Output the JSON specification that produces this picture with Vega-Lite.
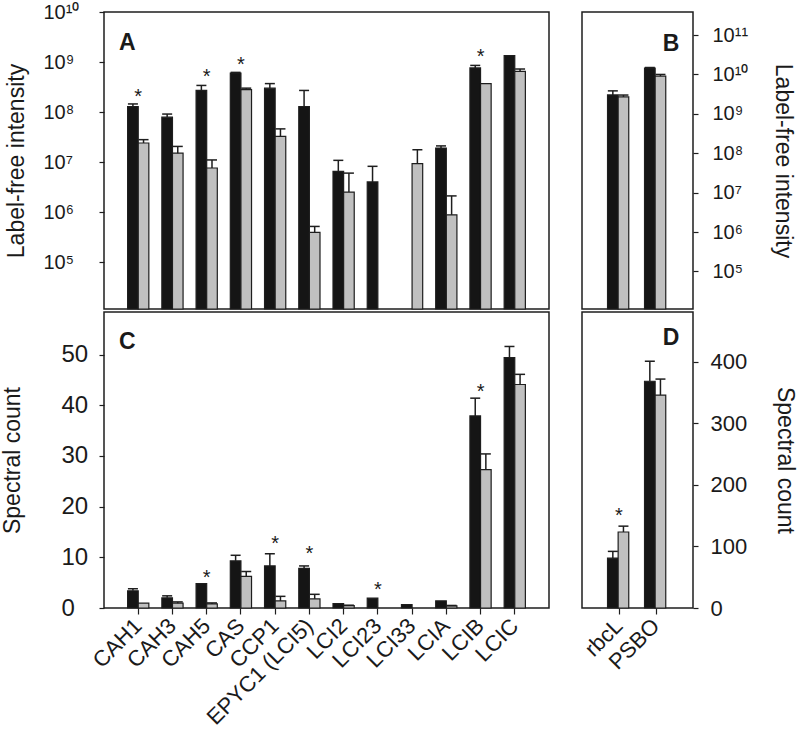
{
  "$schema": "https://vega.github.io/schema/vega-lite/v6.json",
  "background": "white",
  "padding": {"left": 0, "top": 1, "right": 2, "bottom": 0},
  "config": {
    "font": "Liberation Sans",
    "view": {"stroke": "#1e1e1e", "strokeWidth": 1.5},
    "axis": {"grid": false, "domain": false, "tickColor": "#1e1e1e", "tickWidth": 1.2, "tickSize": 5, "labelFontSize": 20, "labelColor": "#1a1a1a", "titleFontSize": 23, "titleFontWeight": "normal", "titleColor": "#1a1a1a", "labelFont": "Liberation Sans", "titleFont": "Liberation Sans"}
  },
  "datasets": {
    "intA": [
      {"gene": "CAH1", "sample": "S1", "value": 1.29e8, "err": 1.45e8},
      {"gene": "CAH1", "sample": "S2", "value": 2.4e7, "err": 2.8e7},
      {"gene": "CAH3", "sample": "S1", "value": 7.9e7, "err": 9.1e7},
      {"gene": "CAH3", "sample": "S2", "value": 1.5e7, "err": 2.05e7},
      {"gene": "CAH5", "sample": "S1", "value": 2.7e8, "err": 3.4e8},
      {"gene": "CAH5", "sample": "S2", "value": 7.6e6, "err": 1.1e7},
      {"gene": "CAS", "sample": "S1", "value": 6.0e8, "err": 6.2e8},
      {"gene": "CAS", "sample": "S2", "value": 2.8e8, "err": 3.0e8},
      {"gene": "CCP1", "sample": "S1", "value": 3.0e8, "err": 3.7e8},
      {"gene": "CCP1", "sample": "S2", "value": 3.25e7, "err": 4.6e7},
      {"gene": "EPYC1 (LCI5)", "sample": "S1", "value": 1.29e8, "err": 2.7e8},
      {"gene": "EPYC1 (LCI5)", "sample": "S2", "value": 3.9e5, "err": 5.15e5},
      {"gene": "LCI2", "sample": "S1", "value": 6.5e6, "err": 1.08e7},
      {"gene": "LCI2", "sample": "S2", "value": 2.5e6, "err": 6.0e6},
      {"gene": "LCI23", "sample": "S1", "value": 4.0e6, "err": 8.2e6},
      {"gene": "LCI33", "sample": "S2", "value": 9.25e6, "err": 1.76e7},
      {"gene": "LCIA", "sample": "S1", "value": 1.9e7, "err": 2.1e7},
      {"gene": "LCIA", "sample": "S2", "value": 8.8e5, "err": 2.1e6},
      {"gene": "LCIB", "sample": "S1", "value": 7.6e8, "err": 8.55e8},
      {"gene": "LCIB", "sample": "S2", "value": 3.68e8, "err": null},
      {"gene": "LCIC", "sample": "S1", "value": 1.34e9, "err": null},
      {"gene": "LCIC", "sample": "S2", "value": 6.5e8, "err": 7.24e8}
    ],
    "intB": [
      {"gene": "rbcL", "sample": "S1", "value": 3.03e9, "err": 3.83e9},
      {"gene": "rbcL", "sample": "S2", "value": 2.69e9, "err": 3.0e9},
      {"gene": "PSBO", "sample": "S1", "value": 1.45e10, "err": 1.5e10},
      {"gene": "PSBO", "sample": "S2", "value": 9.06e9, "err": 1.0e10}
    ],
    "cntC": [
      {"gene": "CAH1", "sample": "S1", "value": 3.4, "err": 3.8},
      {"gene": "CAH1", "sample": "S2", "value": 0.95, "err": null},
      {"gene": "CAH3", "sample": "S1", "value": 2.0, "err": 2.4},
      {"gene": "CAH3", "sample": "S2", "value": 0.95, "err": 1.2},
      {"gene": "CAH5", "sample": "S1", "value": 4.8, "err": null},
      {"gene": "CAH5", "sample": "S2", "value": 0.8, "err": 1.0},
      {"gene": "CAS", "sample": "S1", "value": 9.3, "err": 10.4},
      {"gene": "CAS", "sample": "S2", "value": 6.25, "err": 7.2},
      {"gene": "CCP1", "sample": "S1", "value": 8.3, "err": 10.7},
      {"gene": "CCP1", "sample": "S2", "value": 1.4, "err": 2.3},
      {"gene": "EPYC1 (LCI5)", "sample": "S1", "value": 7.8, "err": 8.3},
      {"gene": "EPYC1 (LCI5)", "sample": "S2", "value": 1.8, "err": 2.7},
      {"gene": "LCI2", "sample": "S1", "value": 0.85, "err": null},
      {"gene": "LCI2", "sample": "S2", "value": 0.45, "err": 0.55},
      {"gene": "LCI23", "sample": "S1", "value": 1.95, "err": null},
      {"gene": "LCI33", "sample": "S1", "value": 0.65, "err": null},
      {"gene": "LCIA", "sample": "S1", "value": 1.4, "err": null},
      {"gene": "LCIA", "sample": "S2", "value": 0.4, "err": 0.5},
      {"gene": "LCIB", "sample": "S1", "value": 37.9, "err": 41.4},
      {"gene": "LCIB", "sample": "S2", "value": 27.3, "err": 30.4},
      {"gene": "LCIC", "sample": "S1", "value": 49.4, "err": 51.6},
      {"gene": "LCIC", "sample": "S2", "value": 44.1, "err": 46.1}
    ],
    "cntD": [
      {"gene": "rbcL", "sample": "S1", "value": 81, "err": 92},
      {"gene": "rbcL", "sample": "S2", "value": 123.5, "err": 133},
      {"gene": "PSBO", "sample": "S1", "value": 368.5, "err": 401},
      {"gene": "PSBO", "sample": "S2", "value": 346, "err": 372}
    ],
    "starsA": [
      {"gene": "CAH1", "value": 2.6e8},
      {"gene": "CAH5", "value": 6.5e8},
      {"gene": "CAS", "value": 1.15e9},
      {"gene": "LCIB", "value": 1.63e9}
    ],
    "starsC": [
      {"gene": "CAH5", "value": 7.1},
      {"gene": "CCP1", "value": 13.9},
      {"gene": "EPYC1 (LCI5)", "value": 11.8},
      {"gene": "LCI23", "value": 4.8},
      {"gene": "LCIB", "value": 43.8}
    ],
    "starsD": [
      {"gene": "rbcL", "value": 158.9}
    ],
    "lettersA": [{"gene": "CAH1", "value": 2.4e9, "label": "A"}],
    "lettersB": [{"gene": "PSBO", "value": 5.9e10, "label": "B"}],
    "lettersC": [{"gene": "CAH1", "value": 52.5, "label": "C"}],
    "lettersD": [{"gene": "PSBO", "value": 438, "label": "D"}]
  },
  "columns": 2,
  "spacing": {"row": 0, "column": 29},
  "concat": [
    {
      "width": 445, "height": 297,
      "layer": [
        {
          "data": {"name": "intA"},
          "mark": {"type": "bar", "stroke": "#1e1e1e", "strokeWidth": 1.2},
          "encoding": {
            "x": {"field": "gene", "type": "nominal", "scale": {"domain": ["CAH1","CAH3","CAH5","CAS","CCP1","EPYC1 (LCI5)","LCI2","LCI23","LCI33","LCIA","LCIB","LCIC"], "paddingInner": 0.38, "paddingOuter": 0.69}, "axis": null},
            "xOffset": {"field": "sample", "type": "nominal", "scale": {"domain": ["S1","S2"]}},
            "y": {"field": "value", "type": "quantitative", "scale": {"type": "log", "domain": [11500, 1e10], "nice": false},
                  "axis": {"values": [1e5,1e6,1e7,1e8,1e9,1e10], "labelExpr": "datum.value == 1e5 ? '10⁵' : datum.value == 1e6 ? '10⁶' : datum.value == 1e7 ? '10⁷' : datum.value == 1e8 ? '10⁸' : datum.value == 1e9 ? '10⁹' : datum.value == 1e10 ? '10¹⁰' : ''", "labelAlign": "left", "labelPadding": 56, "title": "Label-free intensity", "titlePadding": 15}},
            "y2": {"datum": 11500},
            "color": {"field": "sample", "type": "nominal", "scale": {"domain": ["S1","S2"], "range": ["#151515", "#c0c0c0"]}, "legend": null}
          }
        },
        {
          "data": {"name": "intA"},
          "transform": [{"filter": "datum.err != null"}],
          "mark": {"type": "rule", "color": "#1e1e1e", "strokeWidth": 1.5},
          "encoding": {
            "x": {"field": "gene", "type": "nominal"},
            "xOffset": {"field": "sample", "type": "nominal"},
            "y": {"field": "value", "type": "quantitative"},
            "y2": {"field": "err"}
          }
        },
        {
          "data": {"name": "intA"},
          "transform": [{"filter": "datum.err != null"}],
          "mark": {"type": "tick", "color": "#1e1e1e", "thickness": 1.5, "size": 10, "opacity": 1},
          "encoding": {
            "x": {"field": "gene", "type": "nominal"},
            "xOffset": {"field": "sample", "type": "nominal"},
            "y": {"field": "err", "type": "quantitative"}
          }
        },
        {
          "data": {"name": "starsA"},
          "mark": {"type": "text", "text": "*", "fontSize": 20, "baseline": "alphabetic", "dy": 12, "color": "#1a1a1a"},
          "encoding": {
            "x": {"field": "gene", "type": "nominal"},
            "y": {"field": "value", "type": "quantitative"}
          }
        },
        {
          "data": {"name": "lettersA"},
          "mark": {"type": "text", "fontSize": 23, "fontWeight": "bold", "baseline": "middle", "dx": -11, "color": "#1a1a1a"},
          "encoding": {
            "x": {"field": "gene", "type": "nominal"},
            "y": {"field": "value", "type": "quantitative"},
            "text": {"field": "label"}
          }
        }
      ]
    },
    {
      "width": 111, "height": 297,
      "layer": [
        {
          "data": {"name": "intB"},
          "mark": {"type": "bar", "stroke": "#1e1e1e", "strokeWidth": 1.2},
          "encoding": {
            "x": {"field": "gene", "type": "nominal", "scale": {"domain": ["rbcL","PSBO"], "paddingInner": 0.38, "paddingOuter": 0.69}, "axis": null},
            "xOffset": {"field": "sample", "type": "nominal", "scale": {"domain": ["S1","S2"]}},
            "y": {"field": "value", "type": "quantitative", "scale": {"type": "log", "domain": [11100, 3.85e11], "nice": false},
                  "axis": {"orient": "right", "values": [1e5,1e6,1e7,1e8,1e9,1e10,1e11], "labelExpr": "datum.value == 1e5 ? '10⁵' : datum.value == 1e6 ? '10⁶' : datum.value == 1e7 ? '10⁷' : datum.value == 1e8 ? '10⁸' : datum.value == 1e9 ? '10⁹' : datum.value == 1e10 ? '10¹⁰' : datum.value == 1e11 ? '10¹¹' : ''", "labelPadding": 14, "title": "Label-free intensity", "titlePadding": 23}},
            "y2": {"datum": 11100},
            "color": {"field": "sample", "type": "nominal", "scale": {"domain": ["S1","S2"], "range": ["#151515", "#c0c0c0"]}, "legend": null}
          }
        },
        {
          "data": {"name": "intB"},
          "transform": [{"filter": "datum.err != null"}],
          "mark": {"type": "rule", "color": "#1e1e1e", "strokeWidth": 1.5},
          "encoding": {
            "x": {"field": "gene", "type": "nominal"},
            "xOffset": {"field": "sample", "type": "nominal"},
            "y": {"field": "value", "type": "quantitative"},
            "y2": {"field": "err"}
          }
        },
        {
          "data": {"name": "intB"},
          "transform": [{"filter": "datum.err != null"}],
          "mark": {"type": "tick", "color": "#1e1e1e", "thickness": 1.5, "size": 10, "opacity": 1},
          "encoding": {
            "x": {"field": "gene", "type": "nominal"},
            "xOffset": {"field": "sample", "type": "nominal"},
            "y": {"field": "err", "type": "quantitative"}
          }
        },
        {
          "data": {"name": "lettersB"},
          "mark": {"type": "text", "fontSize": 23, "fontWeight": "bold", "baseline": "middle", "dx": 15, "color": "#1a1a1a"},
          "encoding": {
            "x": {"field": "gene", "type": "nominal"},
            "y": {"field": "value", "type": "quantitative"},
            "text": {"field": "label"}
          }
        }
      ]
    },
    {
      "width": 445, "height": 296,
      "layer": [
        {
          "data": {"name": "cntC"},
          "mark": {"type": "bar", "stroke": "#1e1e1e", "strokeWidth": 1.2},
          "encoding": {
            "x": {"field": "gene", "type": "nominal", "scale": {"domain": ["CAH1","CAH3","CAH5","CAS","CCP1","EPYC1 (LCI5)","LCI2","LCI23","LCI33","LCIA","LCIB","LCIC"], "paddingInner": 0.38, "paddingOuter": 0.69},
                  "axis": {"title": null, "labelAngle": -45, "labelAlign": "right", "labelBaseline": "middle", "tickSize": 6, "labelPadding": 8, "labelFontSize": 22}},
            "xOffset": {"field": "sample", "type": "nominal", "scale": {"domain": ["S1","S2"]}},
            "y": {"field": "value", "type": "quantitative", "scale": {"domain": [0, 58.4], "nice": false},
                  "axis": {"values": [0,10,20,30,40,50], "labelAlign": "left", "labelPadding": 38, "labelFontSize": 24, "title": "Spectral count", "titlePadding": 37}},
            "color": {"field": "sample", "type": "nominal", "scale": {"domain": ["S1","S2"], "range": ["#151515", "#c0c0c0"]}, "legend": null}
          }
        },
        {
          "data": {"name": "cntC"},
          "transform": [{"filter": "datum.err != null"}],
          "mark": {"type": "rule", "color": "#1e1e1e", "strokeWidth": 1.5},
          "encoding": {
            "x": {"field": "gene", "type": "nominal"},
            "xOffset": {"field": "sample", "type": "nominal"},
            "y": {"field": "value", "type": "quantitative"},
            "y2": {"field": "err"}
          }
        },
        {
          "data": {"name": "cntC"},
          "transform": [{"filter": "datum.err != null"}],
          "mark": {"type": "tick", "color": "#1e1e1e", "thickness": 1.5, "size": 10, "opacity": 1},
          "encoding": {
            "x": {"field": "gene", "type": "nominal"},
            "xOffset": {"field": "sample", "type": "nominal"},
            "y": {"field": "err", "type": "quantitative"}
          }
        },
        {
          "data": {"name": "starsC"},
          "mark": {"type": "text", "text": "*", "fontSize": 20, "baseline": "alphabetic", "dy": 12, "color": "#1a1a1a"},
          "encoding": {
            "x": {"field": "gene", "type": "nominal"},
            "y": {"field": "value", "type": "quantitative"}
          }
        },
        {
          "data": {"name": "lettersC"},
          "mark": {"type": "text", "fontSize": 23, "fontWeight": "bold", "baseline": "middle", "dx": -11, "color": "#1a1a1a"},
          "encoding": {
            "x": {"field": "gene", "type": "nominal"},
            "y": {"field": "value", "type": "quantitative"},
            "text": {"field": "label"}
          }
        }
      ]
    },
    {
      "width": 111, "height": 296,
      "layer": [
        {
          "data": {"name": "cntD"},
          "mark": {"type": "bar", "stroke": "#1e1e1e", "strokeWidth": 1.2},
          "encoding": {
            "x": {"field": "gene", "type": "nominal", "scale": {"domain": ["rbcL","PSBO"], "paddingInner": 0.38, "paddingOuter": 0.69},
                  "axis": {"title": null, "labelAngle": -45, "labelAlign": "right", "labelBaseline": "middle", "tickSize": 6, "labelPadding": 8, "labelFontSize": 22}},
            "xOffset": {"field": "sample", "type": "nominal", "scale": {"domain": ["S1","S2"]}},
            "y": {"field": "value", "type": "quantitative", "scale": {"domain": [0, 481], "nice": false},
                  "axis": {"orient": "right", "values": [0,100,200,300,400], "labelPadding": 12, "labelFontSize": 22, "title": "Spectral count", "titlePadding": 26}},
            "color": {"field": "sample", "type": "nominal", "scale": {"domain": ["S1","S2"], "range": ["#151515", "#c0c0c0"]}, "legend": null}
          }
        },
        {
          "data": {"name": "cntD"},
          "transform": [{"filter": "datum.err != null"}],
          "mark": {"type": "rule", "color": "#1e1e1e", "strokeWidth": 1.5},
          "encoding": {
            "x": {"field": "gene", "type": "nominal"},
            "xOffset": {"field": "sample", "type": "nominal"},
            "y": {"field": "value", "type": "quantitative"},
            "y2": {"field": "err"}
          }
        },
        {
          "data": {"name": "cntD"},
          "transform": [{"filter": "datum.err != null"}],
          "mark": {"type": "tick", "color": "#1e1e1e", "thickness": 1.5, "size": 10, "opacity": 1},
          "encoding": {
            "x": {"field": "gene", "type": "nominal"},
            "xOffset": {"field": "sample", "type": "nominal"},
            "y": {"field": "err", "type": "quantitative"}
          }
        },
        {
          "data": {"name": "starsD"},
          "mark": {"type": "text", "text": "*", "fontSize": 20, "baseline": "alphabetic", "dy": 12, "color": "#1a1a1a"},
          "encoding": {
            "x": {"field": "gene", "type": "nominal"},
            "y": {"field": "value", "type": "quantitative"}
          }
        },
        {
          "data": {"name": "lettersD"},
          "mark": {"type": "text", "fontSize": 23, "fontWeight": "bold", "baseline": "middle", "dx": 15, "color": "#1a1a1a"},
          "encoding": {
            "x": {"field": "gene", "type": "nominal"},
            "y": {"field": "value", "type": "quantitative"},
            "text": {"field": "label"}
          }
        }
      ]
    }
  ]
}
